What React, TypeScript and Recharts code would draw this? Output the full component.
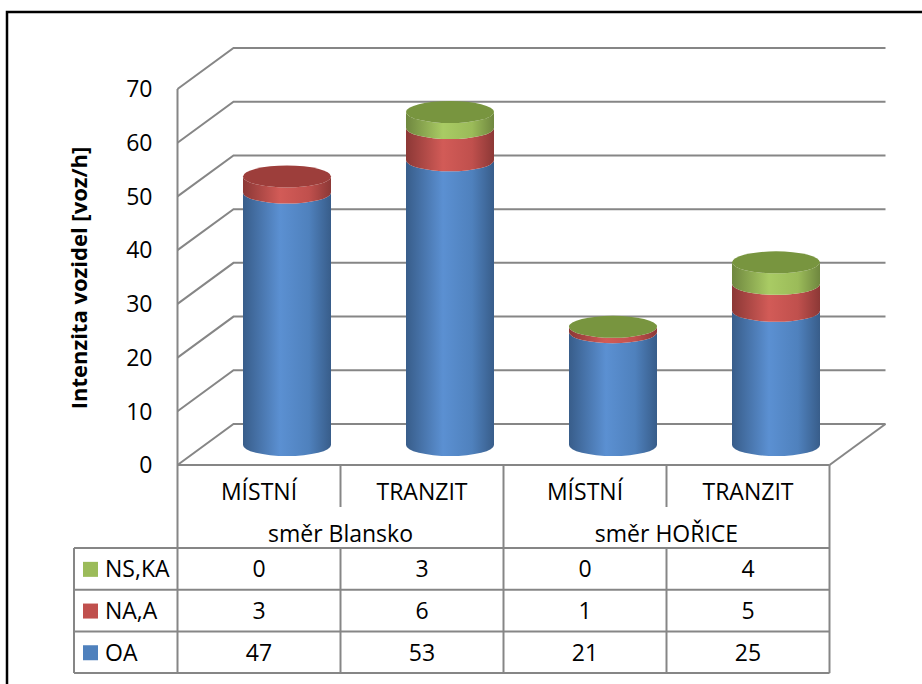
import { BarChart, Bar, XAxis, YAxis, CartesianGrid } from 'recharts'

// categories / groups
const categories = ['MÍSTNÍ', 'TRANZIT', 'MÍSTNÍ', 'TRANZIT']
const groups = ['směr Blansko', 'směr Blansko', 'směr HOŘICE', 'směr HOŘICE']

// series values (voz/h)
const oa = [47, 53, 21, 25]
const naA = [3, 6, 1, 5]
const nsKa = [0, 3, 0, 4]

// colour of the visible top cap of each cylinder, as seen in the source chart
const topCap = ['naA', 'nsKa', 'nsKa', 'nsKa']

const yTicks = [0, 10, 20, 30, 40, 50, 60, 70]

// stacking order: bottom -> top
const series = [
  { key: 'oa', name: 'OA', values: oa, color: '#4f81bd', dark: '#385d8a', light: '#5b90d2', top: '#4a78ae' },
  { key: 'naA', name: 'NA,A', values: naA, color: '#c0504d', dark: '#8c3836', light: '#d25b57', top: '#9d3e3b' },
  { key: 'nsKa', name: 'NS,KA', values: nsKa, color: '#9bbb59', dark: '#6f873f', light: '#a9cb64', top: '#78953f' },
]

const data = categories.map((cat, i) => {
  const row: Record<string, any> = { cat, group: groups[i], cap: topCap[i] }
  series.forEach((s) => (row[s.key] = s.values[i]))
  return row
})

// layout
const W = 922
const H = 684
const PLOT_L = 205
const PLOT_R = 857
const PLOT_T = 69
const PLOT_B = 445
const FRONT_DX = -27.5
const BACK_DX = 28.5
const FRONT_DY = 20
const BACK_DY = -21
const RY = 11
const FONT = '"Open Sans", Lato, sans-serif'
const FS = 23
const GRID = '#868686'

const FRONT_L = PLOT_L + FRONT_DX
const FRONT_R = PLOT_R + FRONT_DX
const COL = (PLOT_R - PLOT_L) / categories.length
const TBL_TOP = PLOT_B + FRONT_DY
const CAT_DIV_END = 507
const GRP_BOTTOM = 548
const ROW_H = 41.7
const LEG_L = 74
const CAT_Y = 491.5
const GRP_Y = 534

const tableRows = [...series].reverse()

function cylinder(si: number) {
  return (p: any) => {
    const { x, y, width, height, payload } = p
    if (!height || height <= 0) return <g />
    const rx = width / 2
    const yb = y + height
    const d = `M${x},${y} L${x},${yb} A${rx},${RY} 0 0 0 ${x + width},${yb} L${x + width},${y} A${rx},${RY} 0 0 1 ${x},${y} Z`
    const isTop = series.slice(si + 1).every((s) => !payload[s.key])
    const capColor = series.find((s) => s.key === payload.cap)?.top ?? series[si].top
    return (
      <g>
        <path d={d} fill={`url(#side-${si})`} />
        {isTop && <ellipse cx={x + rx} cy={y} rx={rx} ry={RY} fill={capColor} />}
      </g>
    )
  }
}

function gridLine(p: any) {
  const { x1, x2, y1 } = p
  const pts = `${x1 + FRONT_DX},${y1 + FRONT_DY} ${x1 + BACK_DX},${y1 + BACK_DY} ${x2 + BACK_DX},${y1 + BACK_DY}`
  return <polyline key={p.key ?? `g-${y1}`} points={pts} fill="none" stroke={GRID} strokeWidth={2} />
}

function YTick(p: any) {
  return (
    <text x={FRONT_L - 25} y={p.y + FRONT_DY} dy="0.36em" textAnchor="end" fontFamily={FONT} fontSize={FS} fill="#000">
      {p.payload.value}
    </text>
  )
}

function CatTick(p: any) {
  const i = p.index
  const cx = p.payload.coordinate + FRONT_DX
  return (
    <g fontFamily={FONT} fontSize={FS} fill="#000" textAnchor="middle">
      <text x={cx} y={CAT_Y} dy="0.36em">{p.payload.value}</text>
      {tableRows.map((s, r) => (
        <text key={s.key} x={cx} y={GRP_BOTTOM + ROW_H * (r + 0.5)} dy="0.36em">
          {s.values[i]}
        </text>
      ))}
    </g>
  )
}

function GroupTick(p: any) {
  return (
    <text x={p.payload.coordinate + FRONT_DX} y={GRP_Y} dy="0.36em" textAnchor="middle" fontFamily={FONT} fontSize={FS} fill="#000">
      {p.payload.value}
    </text>
  )
}

function Background() {
  const bottom = GRP_BOTTOM + ROW_H * 3
  const lines: any[] = []
  // table horizontal lines
  lines.push([FRONT_L, TBL_TOP, FRONT_R, TBL_TOP])
  for (let r = 0; r <= 3; r++) lines.push([LEG_L, GRP_BOTTOM + ROW_H * r, FRONT_R, GRP_BOTTOM + ROW_H * r])
  // verticals
  lines.push([FRONT_L, PLOT_T + FRONT_DY, FRONT_L, bottom])
  lines.push([LEG_L, GRP_BOTTOM, LEG_L, bottom])
  for (let c = 1; c <= categories.length; c++) {
    const x = FRONT_L + COL * c
    if (c % 2 === 0) lines.push([x, TBL_TOP, x, bottom])
    else {
      lines.push([x, TBL_TOP, x, CAT_DIV_END])
      lines.push([x, GRP_BOTTOM, x, bottom])
    }
  }
  // floor right edge
  lines.push([FRONT_R, TBL_TOP, PLOT_R + BACK_DX, PLOT_B + BACK_DY])

  return (
    <svg width={W} height={H} style={{ position: 'absolute', left: 0, top: 0 }}>
      <defs>
        {series.map((s, i) => (
          <linearGradient key={s.key} id={`side-${i}`} x1="0" y1="0" x2="1" y2="0">
            <stop offset="0" stopColor={s.dark} />
            <stop offset="0.42" stopColor={s.light} />
            <stop offset="0.75" stopColor={s.color} />
            <stop offset="1" stopColor={s.dark} />
          </linearGradient>
        ))}
      </defs>
      <rect x={7} y={12} width={W + 20} height={H + 20} fill="#fff" stroke="#000" strokeWidth={2.5} />
      {lines.map((l, i) => (
        <line key={i} x1={l[0]} y1={l[1]} x2={l[2]} y2={l[3]} stroke={GRID} strokeWidth={2} />
      ))}
      <text
        transform={`translate(79, 278) rotate(-90)`}
        textAnchor="middle"
        dy="0.36em"
        fontFamily={FONT}
        fontSize={22}
        fontWeight="bold"
        fill="#000"
      >
        Intenzita vozidel [voz/h]
      </text>
      {tableRows.map((s, r) => {
        const cy = GRP_BOTTOM + ROW_H * (r + 0.5)
        return (
          <g key={s.key}>
            <rect x={83} y={cy - 7} width={15} height={15} fill={s.color} />
            <text x={105} y={cy} dy="0.36em" fontFamily={FONT} fontSize={FS} fill="#000">
              {s.name}
            </text>
          </g>
        )
      })}
    </svg>
  )
}

export default function App() {
  return (
    <div style={{ position: 'absolute', left: 0, top: 0, width: W, height: H, overflow: 'hidden' }}>
      <Background />
      <div style={{ position: 'absolute', left: 0, top: 0 }}>
        <BarChart
          width={W}
          height={H}
          data={data}
          margin={{ top: PLOT_T, right: W - PLOT_R, left: PLOT_L - 60, bottom: H - PLOT_B - 2 }}
          barSize={88}
        >
          <CartesianGrid vertical={false} horizontal={gridLine} />
          <XAxis dataKey="cat" height={1} axisLine={false} tickLine={false} interval={0} tick={CatTick} />
          <XAxis
            xAxisId="grp"
            dataKey="group"
            allowDuplicatedCategory={false}
            height={1}
            axisLine={false}
            tickLine={false}
            interval={0}
            tick={GroupTick}
          />
          <YAxis width={60} domain={[0, 70]} ticks={yTicks} axisLine={false} tickLine={false} tick={YTick} />
          {series.map((s, i) => (
            <Bar key={s.key} dataKey={s.key} name={s.name} stackId="a" fill={s.color} shape={cylinder(i)} isAnimationActive={false} />
          ))}
        </BarChart>
      </div>
    </div>
  )
}
